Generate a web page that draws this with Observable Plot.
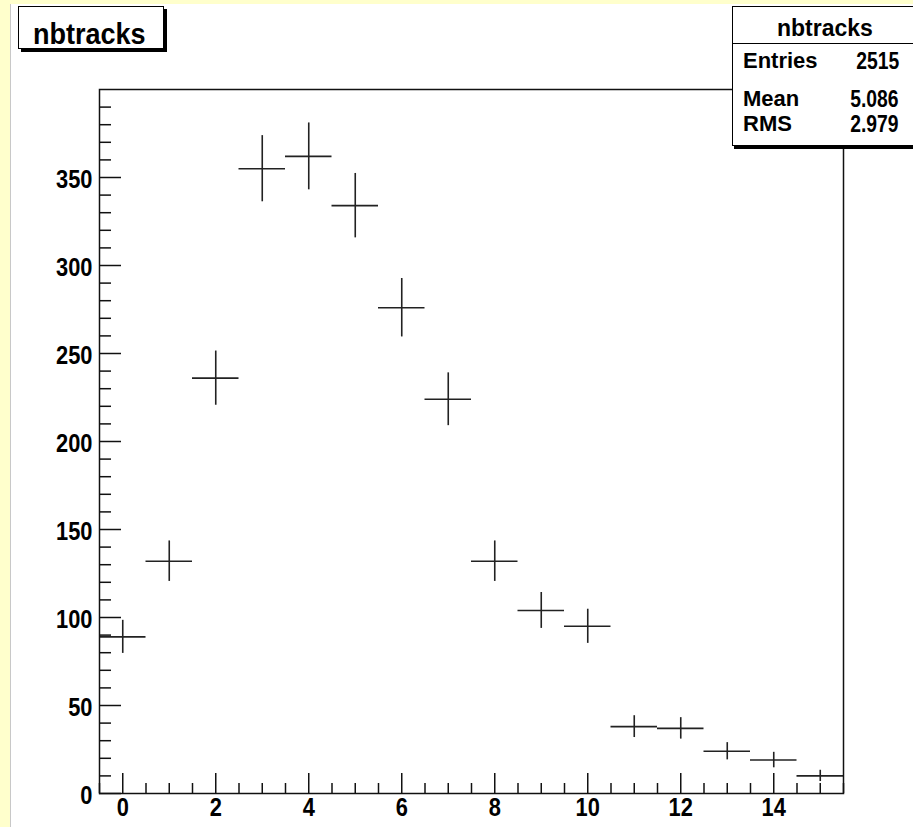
<!DOCTYPE html>
<html>
<head>
<meta charset="utf-8">
<script src="https://cdn.jsdelivr.net/npm/d3@7"></script>
<script src="https://cdn.jsdelivr.net/npm/@observablehq/plot@0.6"></script>
<style>
html, body { margin: 0; padding: 0; width: 913px; height: 827px; overflow: hidden; background: #ffffcc; }
#pad { position: absolute; left: 10px; top: 4px; width: 903px; height: 823px; background: #ffffff; border-left: 1px solid #c8c8c8; box-sizing: border-box; }
#chart { position: absolute; left: 0; top: 0; }
#title { position: absolute; left: 18px; top: 6px; width: 146px; height: 43px; box-sizing: border-box; border: 1px solid #000; background: #fff; box-shadow: 3px 3px 0 #000; }
#title span { position: absolute; left: 14px; top: 12px; font: bold 30px "Liberation Sans", Arial, sans-serif; line-height: 30px; color: #000; white-space: nowrap; transform: scaleX(0.9); transform-origin: left center; }
#stats { position: absolute; left: 732px; top: 6px; width: 186px; height: 140px; box-sizing: border-box; border: 1px solid #000; background: #fff; box-shadow: 2px 3px 0 #000; font-family: "Liberation Sans", Arial, sans-serif; font-weight: bold; color: #000; }
#stats .sep { position: absolute; left: 0; right: 0; top: 36px; border-top: 1px solid #000; }
#stats .t { position: absolute; white-space: nowrap; line-height: 22px; font-size: 22px; }
#stats .v { position: absolute; right: 18px; white-space: nowrap; line-height: 22px; font-size: 23px; transform: scaleX(0.84); transform-origin: right center; }
</style>
</head>
<body>
<div id="pad"></div>
<div id="chart"></div>
<div id="title"><span id="titleText"></span></div>
<div id="stats"></div>
<script>
// ---- data ----
const bins   = [0, 1, 2, 3, 4, 5, 6, 7, 8, 9, 10, 11, 12, 13, 14, 15];
const counts = [89, 132, 236, 355, 362, 334, 276, 224, 132, 104, 95, 38, 37, 24, 19, 10];
const errors = [9.4, 11.5, 15.4, 18.8, 19.0, 18.3, 16.6, 15.0, 11.5, 10.2, 9.7, 6.2, 6.1, 4.9, 4.4, 3.2];
const yMajor = [0, 50, 100, 150, 200, 250, 300, 350];
const xMajor = [0, 2, 4, 6, 8, 10, 12, 14];
const histName = "nbtracks";
const statLabels = ["Entries", "Mean", "RMS"];
const statValues = ["2515", "5.086", "2.979"];

const yMinor = d3.range(0, 400, 10).filter(v => v % 50 !== 0);
const xMinor = d3.range(-0.5, 15.6, 0.5).filter(v => v % 2 !== 0);

const data = bins.map((b, i) => ({bin: b, n: counts[i], err: errors[i]}));

const W = 913, H = 827;
const mL = 99, mR = 70, mT = 89, mB = 34;
const fw = W - mL - mR, fh = H - mT - mB;
const tickFont = '"Liberation Sans", Arial, sans-serif';
const ink = "#111";

const plot = Plot.plot({
  width: W, height: H,
  marginLeft: mL, marginRight: mR, marginTop: mT, marginBottom: mB,
  x: {domain: [-0.5, 15.5], axis: null},
  y: {domain: [0, 400], axis: null},
  style: {background: "transparent", overflow: "visible"},
  marks: [
    Plot.ruleY(yMinor, {y: d => d, stroke: ink, strokeWidth: 1.5, insetRight: fw - 12}),
    Plot.ruleY(yMajor, {y: d => d, stroke: ink, strokeWidth: 1.5, insetRight: fw - 22}),
    Plot.ruleX(xMinor, {x: d => d, stroke: ink, strokeWidth: 1.5, insetTop: fh - 10}),
    Plot.ruleX(xMajor, {x: d => d, stroke: ink, strokeWidth: 1.5, insetTop: fh - 20}),
    Plot.text(yMajor, {y: d => d, text: d => String(d), frameAnchor: "left", textAnchor: "end", dx: -7, dy: 2,
      fontFamily: tickFont, fontWeight: "bold", fontSize: 26, fill: "#000"}),
    Plot.text(xMajor, {x: d => d, text: d => String(d), frameAnchor: "bottom", dy: 22,
      fontFamily: tickFont, fontWeight: "bold", fontSize: 26, fill: "#000"}),
    Plot.ruleY(data, {y: "n", x1: d => d.bin - 0.5, x2: d => d.bin + 0.5, stroke: "#222", strokeWidth: 1.6}),
    Plot.ruleX(data, {x: "bin", y1: d => d.n - d.err, y2: d => d.n + d.err, stroke: "#222", strokeWidth: 1.6}),
    Plot.frame({stroke: ink, strokeWidth: 1.5})
  ]
});
document.getElementById("chart").appendChild(plot);

// condense tick labels horizontally (ROOT's bold Helvetica is narrow)
d3.select(plot).selectAll('g[aria-label="text"] text').each(function () {
  let t = this.getAttribute("transform");
  if (!t) {
    const x = this.getAttribute("x") || 0, y = this.getAttribute("y") || 0;
    this.removeAttribute("x"); this.removeAttribute("y");
    t = `translate(${x},${y})`;
  }
  this.setAttribute("transform", t + " scale(0.84,1.02)");
});

document.getElementById("titleText").textContent = histName;

const stats = document.getElementById("stats");
const st = document.createElement("div");
st.className = "t"; st.textContent = histName;
st.style.fontSize = "23px"; st.style.left = "44px"; st.style.top = "10px";
stats.appendChild(st);
const sep = document.createElement("div"); sep.className = "sep"; stats.appendChild(sep);
const tops = [43, 81, 106];
statLabels.forEach((lab, i) => {
  const l = document.createElement("div");
  l.className = "t"; l.textContent = lab; l.style.left = "10px"; l.style.top = tops[i] + "px";
  stats.appendChild(l);
  const v = document.createElement("div");
  v.className = "v"; v.textContent = statValues[i]; v.style.top = tops[i] + "px";
  stats.appendChild(v);
});
</script>
</body>
</html>
